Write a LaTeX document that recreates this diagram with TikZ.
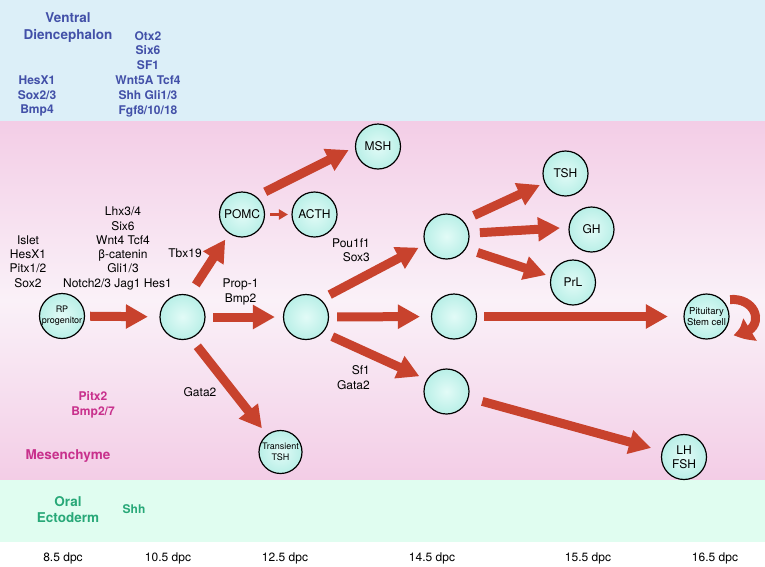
\documentclass[tikz,border=0pt]{standalone}
\usepackage{fontspec}
\setmainfont{TeX Gyre Heros}
\usetikzlibrary{arrows.meta,calc,bending}
\definecolor{bandblue}{RGB}{220,239,248}
\definecolor{pinkedge}{RGB}{243,205,230}
\definecolor{pinkmid}{RGB}{250,241,248}
\definecolor{bandgreen}{RGB}{224,253,240}
\definecolor{arrowred}{RGB}{200,66,45}
\definecolor{txtblue}{RGB}{66,80,168}
\definecolor{txtmag}{RGB}{200,48,140}
\definecolor{txtgreen}{RGB}{40,168,120}
\definecolor{cellin}{RGB}{226,251,247}
\definecolor{cellout}{RGB}{185,239,231}
\begin{document}
\begin{tikzpicture}[x=1pt,y=-1pt,
  cell/.style={circle, draw=black, line width=1.2pt, minimum size=45pt, inner sep=0pt,
    inner color=cellin, outer color=cellout, align=center, font=\fontsize{12}{13.5}\selectfont},
  lbl/.style={font=\fontsize{12}{14.4}\selectfont, align=center, inner sep=0pt, text=black},
  gene/.style={font=\bfseries\fontsize{12}{14.8}\selectfont, align=center, inner sep=0pt},
  region/.style={font=\bfseries\fontsize{13.5}{17}\selectfont, align=center, inner sep=0pt},
  bigarrow/.style={draw=arrowred, line width=9pt, -{Triangle[length=22pt,width=23pt]}},
  looparrow/.style={draw=arrowred, line width=9pt, -{Triangle[length=20pt,width=23pt,bend]}},
  smallarrow/.style={draw=arrowred, line width=3.5pt, -{Triangle[length=9pt,width=10pt]}}]
\useasboundingbox (0,0) rectangle (765,566);
\fill[white] (0,0) rectangle (765,566);
\fill[bandblue] (0,0) rectangle (765,121);
\shade[top color=pinkedge, bottom color=pinkedge, middle color=pinkmid] (0,121) rectangle (765,480);
\fill[bandgreen] (0,480) rectangle (765,542);

% region texts
\node[region, text=txtblue] (vd) at (68,27.5) {Ventral\\Diencephalon};
\node[gene, text=txtblue] (vdg1) at (148,74) {Otx2\\Six6\\SF1\\Wnt5A Tcf4\\Shh Gli1/3\\Fgf8/10/18};
\node[gene, text=txtblue] (vdg2) at (37,96) {HesX1\\Sox2/3\\Bmp4};
\node[gene, text=txtmag] (pitx) at (93,404.5) {Pitx2\\Bmp2/7};
\node[region, text=txtmag] (mes) at (68,456) {Mesenchyme};
\node[region, text=txtgreen, font=\bfseries\fontsize{13.5}{15.5}\selectfont] (oral) at (68,509.5) {Oral\\Ectoderm};
\node[gene, text=txtgreen] (shh) at (134,509) {Shh};

% factor labels
\node[lbl] (f1) at (28,261.5) {Islet\\HesX1\\Pitx1/2\\Sox2};
\node[lbl, font=\fontsize{12}{14.2}\selectfont] (f2) at (123,240) {Lhx3/4\\Six6\\Wnt4 Tcf4\\β-catenin\\Gli1/3};
\node[lbl] (f3) at (117.5,284) {Notch2/3 Jag1 Hes1};
\node[lbl] (tbx) at (185,253) {Tbx19};
\node[lbl] (prop) at (240.5,292) {Prop-1\\Bmp2};
\node[lbl, align=right, anchor=east] (pou) at (370,250) {Pou1f1\\Sox3};
\node[lbl, align=right, anchor=east, font=\fontsize{12}{15}\selectfont] (sf) at (370,378) {Sf1\\Gata2};
\node[lbl] (gata) at (200,392) {Gata2};

% time labels
\node[lbl] (t1) at (63,558) {8.5 dpc};
\node[lbl] (t2) at (168,558) {10.5 dpc};
\node[lbl] (t3) at (285,558) {12.5 dpc};
\node[lbl] (t4) at (432,558) {14.5 dpc};
\node[lbl] (t5) at (588,558) {15.5 dpc};
\node[lbl] (t6) at (715,558) {16.5 dpc};

% cells
\node[cell, font=\fontsize{9}{11}\selectfont] (rp) at (62,316) {RP\\progenitor};
\node[cell] (c2) at (182.5,317) {};
\node[cell] (pomc) at (242,214.5) {POMC};
\node[cell] (acth) at (314.5,214.5) {ACTH};
\node[cell] (msh) at (378,146.5) {MSH};
\node[cell] (c3) at (306,317) {};
\node[cell, minimum size=43pt, font=\fontsize{9}{10.5}\selectfont] (tt) at (280.5,452) {Transient\\TSH};
\node[cell] (c4) at (446.5,236.5) {};
\node[cell] (c5) at (454,316.5) {};
\node[cell] (c6) at (446.5,391.5) {};
\node[cell] (tsh) at (565.5,173.5) {TSH};
\node[cell] (gh) at (591.5,229.5) {GH};
\node[cell] (prl) at (573,282.5) {PrL};
\node[cell, font=\fontsize{9.5}{11}\selectfont] (stem) at (706.5,316.5) {Pituitary\\Stem cell};
\node[cell] (lh) at (684,457) {LH\\FSH};

% arrows
\draw[bigarrow, shorten <=5pt, shorten >=11.5pt] (rp) -- (c2);
\draw[bigarrow, shorten <=7.5pt, shorten >=8pt] (c2) -- (c3);
\draw[bigarrow, shorten <=12pt, shorten >=7pt] (c2.73) -- (pomc.236);
\draw[bigarrow, shorten <=10pt, shorten >=8pt] (c2.292) -- (tt.128);
\draw[bigarrow, shorten <=10pt, shorten >=7pt] (pomc.52) -- (msh.181);
\draw[smallarrow, shorten <=5pt, shorten >=3.5pt] (pomc) -- (acth);
\draw[bigarrow, shorten <=10pt, shorten >=7pt] (c3.50) -- (c4.200);
\draw[bigarrow, shorten <=8pt, shorten >=11pt] (c3) -- (c5);
\draw[bigarrow, shorten <=10pt, shorten >=8pt] (c3.318) -- (c6.149);
\draw[bigarrow, shorten <=12pt, shorten >=5pt] (c4.44) -- (tsh.204);
\draw[bigarrow, shorten <=10.5pt, shorten >=8.5pt] (c4.8) -- (gh.175);
\draw[bigarrow, shorten <=12pt, shorten >=5pt] (c4.328) -- (prl.165);
\draw[bigarrow, shorten <=7pt, shorten >=15.5pt] (c5) -- (stem);
\draw[bigarrow, shorten <=14pt, shorten >=11pt] (c6) -- (lh);
\draw[looparrow] ($(stem)+(23.5,-17)$) .. controls ($(stem)+(54,-19)$) and ($(stem)+(60,18)$) .. ($(stem)+(26.5,18)$);
\end{tikzpicture}
\end{document}
